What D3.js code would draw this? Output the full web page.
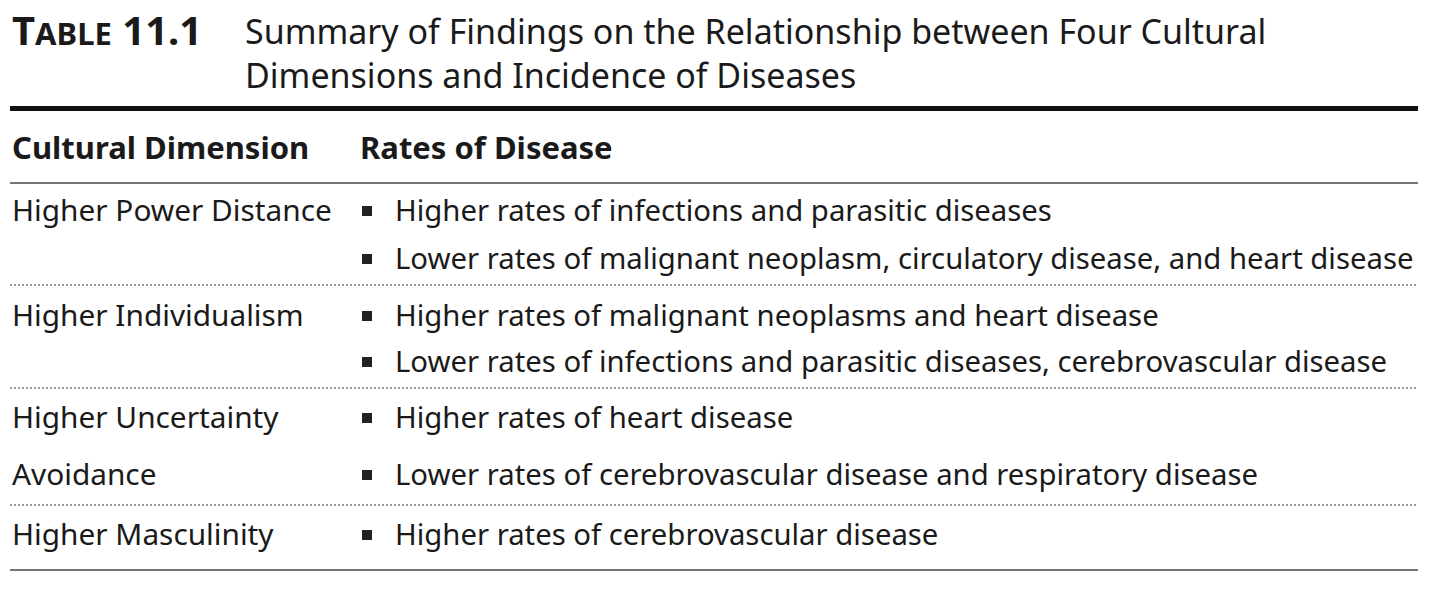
<!DOCTYPE html>
<html><head><meta charset="utf-8">
<script src="https://d3js.org/d3.v7.min.js"></script>
<style>body{margin:0;background:#fff}</style></head>
<body><svg id="c" width="1440" height="593"></svg>
<script>
const tableLabel = "Table 11.1";
const titleLines = ["Summary of Findings on the Relationship between Four Cultural","Dimensions and Incidence of Diseases"];
const headers = ["Cultural Dimension","Rates of Disease"];
const dimensions = [["Higher Power Distance"],["Higher Individualism"],["Higher Uncertainty","Avoidance"],["Higher Masculinity"]];
const findings = [
 ["Higher rates of infections and parasitic diseases","Lower rates of malignant neoplasm, circulatory disease, and heart disease"],
 ["Higher rates of malignant neoplasms and heart disease","Lower rates of infections and parasitic diseases, cerebrovascular disease"],
 ["Higher rates of heart disease","Lower rates of cerebrovascular disease and respiratory disease"],
 ["Higher rates of cerebrovascular disease"]
];
const rowLineY = [[211,259],[316,362],[418,475],[535]];
const sepY = [285,388,505];

const svg = d3.select("#c");
const F = "'Noto Sans', sans-serif";
const col = "#1a1a1a";
svg.append("text").attr("x",12).attr("y",45).attr("font-family",F).attr("font-weight",700)
  .attr("font-size",40).attr("fill",col)
  .html('<tspan>T</tspan><tspan font-size="31">ABLE</tspan><tspan> 11.1</tspan>');
titleLines.forEach((t,i)=>svg.append("text").attr("x",245).attr("y",44+i*44).attr("font-family",F)
  .attr("font-size",34).attr("fill",col).text(t));
svg.append("rect").attr("x",10).attr("y",106).attr("width",1408).attr("height",5).attr("fill","#111");
const hx=[12,360];
headers.forEach((h,i)=>svg.append("text").attr("x",hx[i]).attr("y",159).attr("font-family",F)
  .attr("font-weight",700).attr("font-size",31).attr("fill",col).text(h));
svg.append("line").attr("x1",10).attr("x2",1418).attr("y1",183).attr("y2",183).attr("stroke","#777").attr("stroke-width",2);
sepY.forEach(y=>svg.append("line").attr("x1",10).attr("x2",1418).attr("y1",y).attr("y2",y)
  .attr("stroke","#999").attr("stroke-width",2).attr("stroke-dasharray","2,2"));
svg.append("line").attr("x1",10).attr("x2",1418).attr("y1",570).attr("y2",570).attr("stroke","#777").attr("stroke-width",2);

dimensions.forEach((d,r)=>{
  d.forEach((t,k)=>svg.append("text").attr("x",12).attr("y",rowLineY[r][k]+10).attr("font-family",F)
    .attr("font-size",29.8).attr("fill",col).text(t));
  findings[r].forEach((t,k)=>{
    const y=rowLineY[r][k];
    svg.append("rect").attr("x",362).attr("y",y-5).attr("width",10).attr("height",10).attr("fill","#222");
    svg.append("text").attr("x",395).attr("y",y+10).attr("font-family",F)
      .attr("font-size",29.3).attr("fill",col).text(t);
  });
});
svg.selectAll("text").each(function(){
  const b=this.getBBox(); if(b.x+b.width>1414){d3.select(this).attr("textLength",1414-b.x).attr("lengthAdjust","spacingAndGlyphs");}
});
</script></body></html>
